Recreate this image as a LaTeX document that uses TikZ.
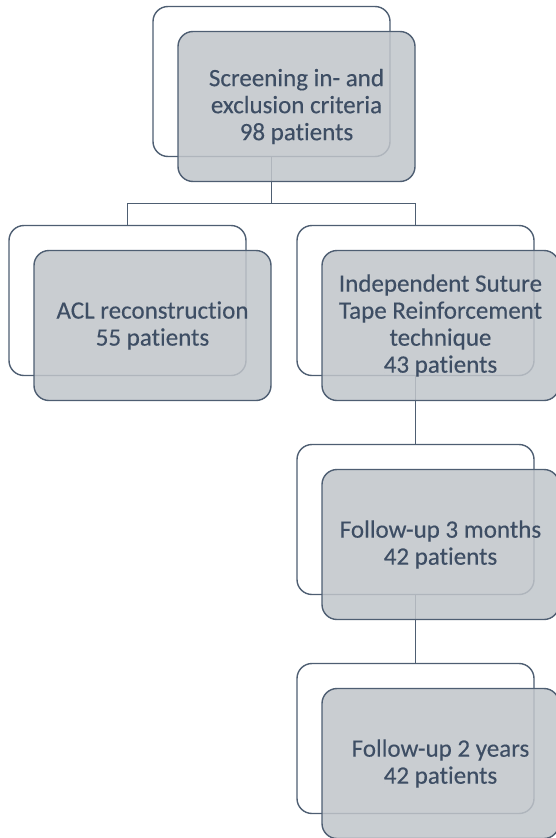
\documentclass[tikz,border=0pt]{standalone}
\usepackage{fontspec}
\setmainfont[Ligatures=NoCommon, FakeBold=0.3]{Carlito}
\usetikzlibrary{positioning}
\definecolor{edgeslate}{RGB}{78,94,114}
\definecolor{boxgray}{RGB}{192,197,202}
\definecolor{txtslate}{RGB}{62,78,100}
\tikzset{
  backbox/.style={rectangle, rounded corners=15pt, draw=edgeslate, fill=white,
    line width=1.4pt, minimum width=237pt, minimum height=150pt, inner sep=0pt, outer sep=0pt},
  frontbox/.style={backbox, fill=boxgray, fill opacity=0.85, text opacity=1,
    text=txtslate, align=center, font=\fontsize{25}{27}\selectfont},
  link/.style={draw=edgeslate, line width=1.4pt}
}

\begin{document}
\begin{tikzpicture}[x=1pt, y=-1pt, node distance=69pt and 51pt]
  \useasboundingbox (0,0) rectangle (556,838);

  % back outlines
  \node (screenB) [backbox] at (271.5,81.5) {};
  \node (aclB)    [backbox, below left=69pt and 25.5pt of screenB.south] {};
  \node (tapeB)   [backbox, below right=69pt and 25.5pt of screenB.south] {};
  \node (fuaB)    [backbox, below=of tapeB] {};
  \node (fubB)    [backbox, below=of fuaB] {};

  % connectors
  \coordinate (split) at ([yshift=-47pt]screenB.south);
  \draw[link] (screenB.south) -- (split);
  \draw[link] (aclB.north) |- (split) -| (tapeB.north);
  \draw[link] (tapeB) -- (fuaB);
  \draw[link] (fuaB) -- (fubB);

  % front boxes
  \node (screen) [frontbox] at ([shift={(25pt,-25pt)}]screenB.center) {Screening in- and\\exclusion criteria\\98 patients};
  \node (acl)    [frontbox] at ([shift={(25pt,-25pt)}]aclB.center) {ACL reconstruction\\55 patients};
  \node (tape)   [frontbox] at ([shift={(25pt,-25pt)}]tapeB.center) {Independent Suture\\Tape Reinforcement\\technique\\43 patients};
  \node (fua)    [frontbox] at ([shift={(25pt,-25pt)}]fuaB.center) {Follow-up 3 months\\42 patients};
  \node (fub)    [frontbox] at ([shift={(25pt,-25pt)}]fubB.center) {Follow-up 2 years\\42 patients};
\end{tikzpicture}
\end{document}
